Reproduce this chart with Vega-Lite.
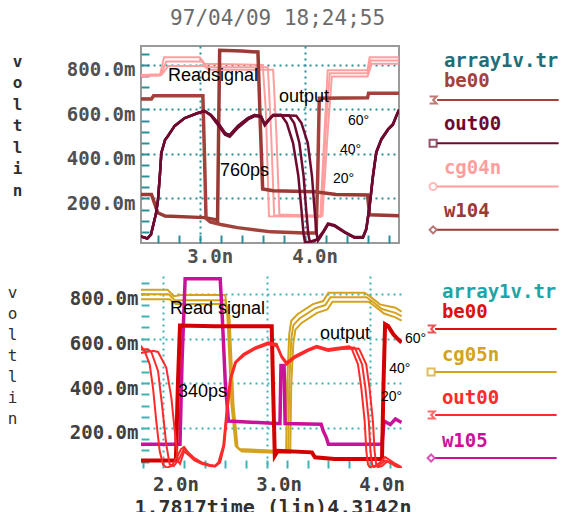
{
"$schema":"https://vega.github.io/schema/vega-lite/v6.json",
"background":"white",
"padding":{"left":7,"top":8,"right":0,"bottom":0},
"config":{"view":{"stroke":null},"font":"DejaVu Sans Mono"},
"title":{"text":"97/04/09 18;24;55","font":"DejaVu Sans Mono","fontSize":21,"fontWeight":"normal","color":"#6b6b6b","anchor":"middle","offset":16,"dx":-6},
"resolve":{"scale":{"x":"independent","y":"independent","color":"independent","shape":"independent"}},
"spacing":9,
"datasets":{
"top":[
{"s":"cg04n_1","t":2.44,"v":750},{"s":"cg04n_1","t":2.62,"v":752},{"s":"cg04n_1","t":2.66,"v":835},{"s":"cg04n_1","t":3.0,"v":835},{"s":"cg04n_1","t":3.05,"v":805},{"s":"cg04n_1","t":3.6,"v":800},{"s":"cg04n_1","t":3.63,"v":600},{"s":"cg04n_1","t":3.66,"v":120},{"s":"cg04n_1","t":4.15,"v":118},{"s":"cg04n_1","t":4.19,"v":500},{"s":"cg04n_1","t":4.22,"v":776},{"s":"cg04n_1","t":4.6,"v":776},{"s":"cg04n_1","t":4.62,"v":835},{"s":"cg04n_1","t":4.9,"v":835},
{"s":"cg04n_2","t":2.44,"v":752},{"s":"cg04n_2","t":2.63,"v":755},{"s":"cg04n_2","t":2.68,"v":815},{"s":"cg04n_2","t":3.02,"v":815},{"s":"cg04n_2","t":3.07,"v":790},{"s":"cg04n_2","t":3.65,"v":790},{"s":"cg04n_2","t":3.68,"v":500},{"s":"cg04n_2","t":3.71,"v":125},{"s":"cg04n_2","t":4.16,"v":120},{"s":"cg04n_2","t":4.2,"v":500},{"s":"cg04n_2","t":4.24,"v":763},{"s":"cg04n_2","t":4.6,"v":763},{"s":"cg04n_2","t":4.63,"v":820},{"s":"cg04n_2","t":4.9,"v":820},
{"s":"cg04n_3","t":2.44,"v":755},{"s":"cg04n_3","t":2.64,"v":758},{"s":"cg04n_3","t":2.7,"v":795},{"s":"cg04n_3","t":3.04,"v":795},{"s":"cg04n_3","t":3.09,"v":778},{"s":"cg04n_3","t":3.7,"v":778},{"s":"cg04n_3","t":3.73,"v":500},{"s":"cg04n_3","t":3.76,"v":128},{"s":"cg04n_3","t":4.17,"v":122},{"s":"cg04n_3","t":4.22,"v":500},{"s":"cg04n_3","t":4.26,"v":748},{"s":"cg04n_3","t":4.6,"v":748},{"s":"cg04n_3","t":4.64,"v":805},{"s":"cg04n_3","t":4.9,"v":805},
{"s":"w104","t":2.44,"v":218},{"s":"w104","t":2.54,"v":218},{"s":"w104","t":2.6,"v":136},{"s":"w104","t":2.67,"v":121},{"s":"w104","t":3.05,"v":114},{"s":"w104","t":3.15,"v":105},{"s":"w104","t":3.17,"v":100},{"s":"w104","t":3.18,"v":500},{"s":"w104","t":3.19,"v":866},{"s":"w104","t":3.4,"v":862},{"s":"w104","t":3.555,"v":858},{"s":"w104","t":3.58,"v":500},{"s":"w104","t":3.6,"v":243},{"s":"w104","t":3.7,"v":235},{"s":"w104","t":4.1,"v":230},{"s":"w104","t":4.3,"v":218},{"s":"w104","t":4.6,"v":216},{"s":"w104","t":4.62,"v":127},{"s":"w104","t":4.9,"v":122},
{"s":"be00","t":2.44,"v":647},{"s":"be00","t":2.54,"v":647},{"s":"be00","t":2.56,"v":661},{"s":"be00","t":3.03,"v":661},{"s":"be00","t":3.045,"v":400},{"s":"be00","t":3.06,"v":110},{"s":"be00","t":3.1,"v":95},{"s":"be00","t":3.2,"v":83},{"s":"be00","t":3.36,"v":69},{"s":"be00","t":3.68,"v":50},{"s":"be00","t":4.0,"v":45},{"s":"be00","t":4.11,"v":45},{"s":"be00","t":4.125,"v":300},{"s":"be00","t":4.14,"v":650},{"s":"be00","t":4.6,"v":652},{"s":"be00","t":4.61,"v":673},{"s":"be00","t":4.9,"v":673},
{"s":"out00_60","t":2.44,"v":29},{"s":"out00_60","t":2.5,"v":20},{"s":"out00_60","t":2.535,"v":38},{"s":"out00_60","t":2.583,"v":132},{"s":"out00_60","t":2.602,"v":194},{"s":"out00_60","t":2.621,"v":311},{"s":"out00_60","t":2.634,"v":405},{"s":"out00_60","t":2.669,"v":463},{"s":"out00_60","t":2.697,"v":481},{"s":"out00_60","t":2.761,"v":526},{"s":"out00_60","t":2.857,"v":561},{"s":"out00_60","t":2.983,"v":584},{"s":"out00_60","t":3.047,"v":593},{"s":"out00_60","t":3.107,"v":575},{"s":"out00_60","t":3.174,"v":539},{"s":"out00_60","t":3.241,"v":494},{"s":"out00_60","t":3.286,"v":485},{"s":"out00_60","t":3.365,"v":526},{"s":"out00_60","t":3.46,"v":561},{"s":"out00_60","t":3.524,"v":575},{"s":"out00_60","t":3.584,"v":570},{"s":"out00_60","t":3.62,"v":532},{"s":"out00_60","t":3.66,"v":556},{"s":"out00_60","t":3.7,"v":575},{"s":"out00_60","t":3.775,"v":576},{"s":"out00_60","t":3.83,"v":539},{"s":"out00_60","t":3.89,"v":449},{"s":"out00_60","t":3.94,"v":302},{"s":"out00_60","t":3.97,"v":149},{"s":"out00_60","t":3.99,"v":40},{"s":"out00_60","t":4.003,"v":5},{"s":"out00_60","t":4.05,"v":6},{"s":"out00_60","t":4.127,"v":17},{"s":"out00_60","t":4.175,"v":46},{"s":"out00_60","t":4.223,"v":84},{"s":"out00_60","t":4.286,"v":77},{"s":"out00_60","t":4.382,"v":47},{"s":"out00_60","t":4.477,"v":24},{"s":"out00_60","t":4.556,"v":24},{"s":"out00_60","t":4.588,"v":61},{"s":"out00_60","t":4.62,"v":166},{"s":"out00_60","t":4.652,"v":300},{"s":"out00_60","t":4.683,"v":405},{"s":"out00_60","t":4.731,"v":464},{"s":"out00_60","t":4.795,"v":509},{"s":"out00_60","t":4.842,"v":531},{"s":"out00_60","t":4.874,"v":569},{"s":"out00_60","t":4.9,"v":598},
{"s":"out00_40","t":2.44,"v":29},{"s":"out00_40","t":2.5,"v":20},{"s":"out00_40","t":2.535,"v":38},{"s":"out00_40","t":2.583,"v":132},{"s":"out00_40","t":2.602,"v":194},{"s":"out00_40","t":2.621,"v":311},{"s":"out00_40","t":2.634,"v":405},{"s":"out00_40","t":2.669,"v":463},{"s":"out00_40","t":2.697,"v":481},{"s":"out00_40","t":2.761,"v":526},{"s":"out00_40","t":2.857,"v":561},{"s":"out00_40","t":2.983,"v":584},{"s":"out00_40","t":3.047,"v":593},{"s":"out00_40","t":3.107,"v":572},{"s":"out00_40","t":3.174,"v":530},{"s":"out00_40","t":3.241,"v":486},{"s":"out00_40","t":3.286,"v":477},{"s":"out00_40","t":3.365,"v":518},{"s":"out00_40","t":3.46,"v":555},{"s":"out00_40","t":3.524,"v":570},{"s":"out00_40","t":3.584,"v":566},{"s":"out00_40","t":3.62,"v":528},{"s":"out00_40","t":3.66,"v":552},{"s":"out00_40","t":3.7,"v":572},{"s":"out00_40","t":3.85,"v":574},{"s":"out00_40","t":3.9,"v":539},{"s":"out00_40","t":3.95,"v":449},{"s":"out00_40","t":3.99,"v":302},{"s":"out00_40","t":4.015,"v":149},{"s":"out00_40","t":4.035,"v":40},{"s":"out00_40","t":4.05,"v":5},{"s":"out00_40","t":4.09,"v":8},{"s":"out00_40","t":4.127,"v":20},{"s":"out00_40","t":4.175,"v":50},{"s":"out00_40","t":4.223,"v":88},{"s":"out00_40","t":4.286,"v":80},{"s":"out00_40","t":4.382,"v":50},{"s":"out00_40","t":4.477,"v":27},{"s":"out00_40","t":4.556,"v":27},{"s":"out00_40","t":4.588,"v":65},{"s":"out00_40","t":4.62,"v":170},{"s":"out00_40","t":4.652,"v":305},{"s":"out00_40","t":4.683,"v":410},{"s":"out00_40","t":4.731,"v":468},{"s":"out00_40","t":4.795,"v":512},{"s":"out00_40","t":4.842,"v":535},{"s":"out00_40","t":4.874,"v":572},{"s":"out00_40","t":4.9,"v":600},
{"s":"out00_20","t":2.44,"v":29},{"s":"out00_20","t":2.5,"v":20},{"s":"out00_20","t":2.535,"v":38},{"s":"out00_20","t":2.583,"v":132},{"s":"out00_20","t":2.602,"v":194},{"s":"out00_20","t":2.621,"v":311},{"s":"out00_20","t":2.634,"v":405},{"s":"out00_20","t":2.669,"v":463},{"s":"out00_20","t":2.697,"v":481},{"s":"out00_20","t":2.761,"v":526},{"s":"out00_20","t":2.857,"v":561},{"s":"out00_20","t":2.983,"v":584},{"s":"out00_20","t":3.047,"v":593},{"s":"out00_20","t":3.107,"v":575},{"s":"out00_20","t":3.174,"v":539},{"s":"out00_20","t":3.241,"v":494},{"s":"out00_20","t":3.286,"v":485},{"s":"out00_20","t":3.365,"v":526},{"s":"out00_20","t":3.46,"v":561},{"s":"out00_20","t":3.524,"v":575},{"s":"out00_20","t":3.584,"v":570},{"s":"out00_20","t":3.62,"v":532},{"s":"out00_20","t":3.66,"v":556},{"s":"out00_20","t":3.7,"v":575},{"s":"out00_20","t":3.92,"v":572},{"s":"out00_20","t":3.97,"v":539},{"s":"out00_20","t":4.03,"v":449},{"s":"out00_20","t":4.07,"v":302},{"s":"out00_20","t":4.095,"v":149},{"s":"out00_20","t":4.115,"v":40},{"s":"out00_20","t":4.127,"v":10},{"s":"out00_20","t":4.15,"v":25},{"s":"out00_20","t":4.175,"v":46},{"s":"out00_20","t":4.223,"v":84},{"s":"out00_20","t":4.286,"v":77},{"s":"out00_20","t":4.382,"v":47},{"s":"out00_20","t":4.477,"v":24},{"s":"out00_20","t":4.556,"v":24},{"s":"out00_20","t":4.588,"v":61},{"s":"out00_20","t":4.62,"v":166},{"s":"out00_20","t":4.652,"v":300},{"s":"out00_20","t":4.683,"v":405},{"s":"out00_20","t":4.731,"v":464},{"s":"out00_20","t":4.795,"v":509},{"s":"out00_20","t":4.842,"v":531},{"s":"out00_20","t":4.874,"v":569},{"s":"out00_20","t":4.9,"v":598}
],
"bot":[
{"s":"cg05n_1","t":1.78,"v":818},{"s":"cg05n_1","t":2.04,"v":818},{"s":"cg05n_1","t":2.1,"v":790},{"s":"cg05n_1","t":2.17,"v":795},{"s":"cg05n_1","t":2.6,"v":795},{"s":"cg05n_1","t":2.62,"v":700},{"s":"cg05n_1","t":2.66,"v":300},{"s":"cg05n_1","t":2.7,"v":120},{"s":"cg05n_1","t":2.74,"v":106},{"s":"cg05n_1","t":3.15,"v":97},{"s":"cg05n_1","t":3.19,"v":97},{"s":"cg05n_1","t":3.2,"v":400},{"s":"cg05n_1","t":3.22,"v":620},{"s":"cg05n_1","t":3.24,"v":680},{"s":"cg05n_1","t":3.3,"v":709},{"s":"cg05n_1","t":3.45,"v":754},{"s":"cg05n_1","t":3.55,"v":768},{"s":"cg05n_1","t":3.6,"v":805},{"s":"cg05n_1","t":3.95,"v":805},{"s":"cg05n_1","t":4.0,"v":790},{"s":"cg05n_1","t":4.1,"v":753},{"s":"cg05n_1","t":4.25,"v":738},{"s":"cg05n_1","t":4.31,"v":720},
{"s":"cg05n_2","t":1.78,"v":798},{"s":"cg05n_2","t":2.05,"v":798},{"s":"cg05n_2","t":2.11,"v":772},{"s":"cg05n_2","t":2.6,"v":772},{"s":"cg05n_2","t":2.63,"v":700},{"s":"cg05n_2","t":2.67,"v":300},{"s":"cg05n_2","t":2.71,"v":115},{"s":"cg05n_2","t":2.75,"v":100},{"s":"cg05n_2","t":3.15,"v":92},{"s":"cg05n_2","t":3.21,"v":92},{"s":"cg05n_2","t":3.22,"v":400},{"s":"cg05n_2","t":3.24,"v":600},{"s":"cg05n_2","t":3.26,"v":660},{"s":"cg05n_2","t":3.32,"v":690},{"s":"cg05n_2","t":3.47,"v":735},{"s":"cg05n_2","t":3.57,"v":750},{"s":"cg05n_2","t":3.62,"v":785},{"s":"cg05n_2","t":3.97,"v":785},{"s":"cg05n_2","t":4.03,"v":765},{"s":"cg05n_2","t":4.12,"v":732},{"s":"cg05n_2","t":4.25,"v":715},{"s":"cg05n_2","t":4.31,"v":700},
{"s":"cg05n_3","t":1.78,"v":776},{"s":"cg05n_3","t":2.06,"v":776},{"s":"cg05n_3","t":2.12,"v":755},{"s":"cg05n_3","t":2.6,"v":755},{"s":"cg05n_3","t":2.64,"v":700},{"s":"cg05n_3","t":2.68,"v":300},{"s":"cg05n_3","t":2.72,"v":110},{"s":"cg05n_3","t":2.76,"v":95},{"s":"cg05n_3","t":3.15,"v":88},{"s":"cg05n_3","t":3.23,"v":88},{"s":"cg05n_3","t":3.24,"v":400},{"s":"cg05n_3","t":3.26,"v":580},{"s":"cg05n_3","t":3.28,"v":640},{"s":"cg05n_3","t":3.34,"v":670},{"s":"cg05n_3","t":3.49,"v":715},{"s":"cg05n_3","t":3.59,"v":730},{"s":"cg05n_3","t":3.64,"v":765},{"s":"cg05n_3","t":3.99,"v":765},{"s":"cg05n_3","t":4.05,"v":745},{"s":"cg05n_3","t":4.14,"v":712},{"s":"cg05n_3","t":4.25,"v":695},{"s":"cg05n_3","t":4.31,"v":680},
{"s":"w105","t":1.78,"v":127},{"s":"w105","t":2.16,"v":127},{"s":"w105","t":2.18,"v":500},{"s":"w105","t":2.21,"v":868},{"s":"w105","t":2.55,"v":868},{"s":"w105","t":2.57,"v":700},{"s":"w105","t":2.6,"v":400},{"s":"w105","t":2.63,"v":231},{"s":"w105","t":3.1,"v":220},{"s":"w105","t":3.13,"v":220},{"s":"w105","t":3.14,"v":480},{"s":"w105","t":3.17,"v":480},{"s":"w105","t":3.18,"v":220},{"s":"w105","t":3.53,"v":217},{"s":"w105","t":3.55,"v":187},{"s":"w105","t":3.58,"v":157},{"s":"w105","t":3.6,"v":127},{"s":"w105","t":4.12,"v":127},{"s":"w105","t":4.14,"v":231},{"s":"w105","t":4.2,"v":215},{"s":"w105","t":4.25,"v":240},{"s":"w105","t":4.31,"v":225},
{"s":"be00","t":1.78,"v":55},{"s":"be00","t":2.12,"v":55},{"s":"be00","t":2.14,"v":400},{"s":"be00","t":2.16,"v":658},{"s":"be00","t":2.5,"v":655},{"s":"be00","t":3.05,"v":655},{"s":"be00","t":3.065,"v":350},{"s":"be00","t":3.08,"v":76},{"s":"be00","t":3.11,"v":98},{"s":"be00","t":3.44,"v":91},{"s":"be00","t":3.47,"v":69},{"s":"be00","t":3.66,"v":61},{"s":"be00","t":4.12,"v":61},{"s":"be00","t":4.135,"v":400},{"s":"be00","t":4.15,"v":664},{"s":"be00","t":4.18,"v":656},{"s":"be00","t":4.23,"v":619},{"s":"be00","t":4.26,"v":604},{"s":"be00","t":4.31,"v":582},
{"s":"out00_60","t":1.78,"v":568},{"s":"out00_60","t":1.817,"v":544},{"s":"out00_60","t":1.866,"v":485},{"s":"out00_60","t":1.898,"v":380},{"s":"out00_60","t":1.93,"v":231},{"s":"out00_60","t":1.963,"v":97},{"s":"out00_60","t":1.995,"v":37},{"s":"out00_60","t":2.03,"v":22},{"s":"out00_60","t":2.08,"v":30},{"s":"out00_60","t":2.13,"v":70},{"s":"out00_60","t":2.17,"v":105},{"s":"out00_60","t":2.2,"v":115},{"s":"out00_60","t":2.24,"v":90},{"s":"out00_60","t":2.3,"v":65},{"s":"out00_60","t":2.37,"v":46},{"s":"out00_60","t":2.45,"v":35},{"s":"out00_60","t":2.5,"v":31},{"s":"out00_60","t":2.532,"v":46},{"s":"out00_60","t":2.58,"v":121},{"s":"out00_60","t":2.613,"v":285},{"s":"out00_60","t":2.645,"v":419},{"s":"out00_60","t":2.694,"v":494},{"s":"out00_60","t":2.774,"v":531},{"s":"out00_60","t":2.888,"v":561},{"s":"out00_60","t":3.017,"v":583},{"s":"out00_60","t":3.098,"v":576},{"s":"out00_60","t":3.147,"v":523},{"s":"out00_60","t":3.195,"v":494},{"s":"out00_60","t":3.276,"v":523},{"s":"out00_60","t":3.405,"v":553},{"s":"out00_60","t":3.486,"v":568},{"s":"out00_60","t":3.599,"v":553},{"s":"out00_60","t":3.729,"v":561},{"s":"out00_60","t":3.8,"v":565},{"s":"out00_60","t":3.822,"v":559},{"s":"out00_60","t":3.887,"v":485},{"s":"out00_60","t":3.919,"v":380},{"s":"out00_60","t":3.952,"v":231},{"s":"out00_60","t":3.968,"v":97},{"s":"out00_60","t":3.984,"v":37},{"s":"out00_60","t":4.0,"v":25},{"s":"out00_60","t":4.05,"v":30},{"s":"out00_60","t":4.1,"v":45},{"s":"out00_60","t":4.15,"v":70},{"s":"out00_60","t":4.2,"v":55},{"s":"out00_60","t":4.25,"v":40},{"s":"out00_60","t":4.31,"v":25},
{"s":"out00_40","t":1.78,"v":552},{"s":"out00_40","t":1.85,"v":552},{"s":"out00_40","t":1.882,"v":540},{"s":"out00_40","t":1.947,"v":455},{"s":"out00_40","t":1.985,"v":306},{"s":"out00_40","t":2.027,"v":127},{"s":"out00_40","t":2.06,"v":37},{"s":"out00_40","t":2.1,"v":30},{"s":"out00_40","t":2.15,"v":60},{"s":"out00_40","t":2.2,"v":108},{"s":"out00_40","t":2.24,"v":88},{"s":"out00_40","t":2.3,"v":62},{"s":"out00_40","t":2.37,"v":44},{"s":"out00_40","t":2.45,"v":33},{"s":"out00_40","t":2.5,"v":29},{"s":"out00_40","t":2.54,"v":46},{"s":"out00_40","t":2.585,"v":121},{"s":"out00_40","t":2.618,"v":285},{"s":"out00_40","t":2.65,"v":419},{"s":"out00_40","t":2.7,"v":494},{"s":"out00_40","t":2.78,"v":528},{"s":"out00_40","t":2.888,"v":556},{"s":"out00_40","t":3.017,"v":578},{"s":"out00_40","t":3.098,"v":570},{"s":"out00_40","t":3.147,"v":518},{"s":"out00_40","t":3.195,"v":488},{"s":"out00_40","t":3.276,"v":518},{"s":"out00_40","t":3.405,"v":548},{"s":"out00_40","t":3.486,"v":563},{"s":"out00_40","t":3.599,"v":548},{"s":"out00_40","t":3.729,"v":557},{"s":"out00_40","t":3.85,"v":560},{"s":"out00_40","t":3.86,"v":555},{"s":"out00_40","t":3.927,"v":485},{"s":"out00_40","t":3.959,"v":380},{"s":"out00_40","t":3.992,"v":231},{"s":"out00_40","t":4.008,"v":97},{"s":"out00_40","t":4.024,"v":37},{"s":"out00_40","t":4.04,"v":25},{"s":"out00_40","t":4.1,"v":35},{"s":"out00_40","t":4.15,"v":55},{"s":"out00_40","t":4.2,"v":45},{"s":"out00_40","t":4.25,"v":30},{"s":"out00_40","t":4.31,"v":20},
{"s":"out00_20","t":1.78,"v":535},{"s":"out00_20","t":1.9,"v":545},{"s":"out00_20","t":1.947,"v":540},{"s":"out00_20","t":2.027,"v":470},{"s":"out00_20","t":2.076,"v":336},{"s":"out00_20","t":2.109,"v":187},{"s":"out00_20","t":2.141,"v":52},{"s":"out00_20","t":2.16,"v":40},{"s":"out00_20","t":2.2,"v":95},{"s":"out00_20","t":2.24,"v":80},{"s":"out00_20","t":2.3,"v":55},{"s":"out00_20","t":2.37,"v":40},{"s":"out00_20","t":2.45,"v":30},{"s":"out00_20","t":2.5,"v":28},{"s":"out00_20","t":2.55,"v":46},{"s":"out00_20","t":2.59,"v":121},{"s":"out00_20","t":2.623,"v":285},{"s":"out00_20","t":2.655,"v":419},{"s":"out00_20","t":2.705,"v":494},{"s":"out00_20","t":2.785,"v":526},{"s":"out00_20","t":2.888,"v":553},{"s":"out00_20","t":3.017,"v":574},{"s":"out00_20","t":3.098,"v":566},{"s":"out00_20","t":3.147,"v":514},{"s":"out00_20","t":3.195,"v":484},{"s":"out00_20","t":3.276,"v":514},{"s":"out00_20","t":3.405,"v":545},{"s":"out00_20","t":3.486,"v":560},{"s":"out00_20","t":3.599,"v":545},{"s":"out00_20","t":3.729,"v":553},{"s":"out00_20","t":3.89,"v":556},{"s":"out00_20","t":3.9,"v":552},{"s":"out00_20","t":3.967,"v":485},{"s":"out00_20","t":3.999,"v":380},{"s":"out00_20","t":4.032,"v":231},{"s":"out00_20","t":4.048,"v":97},{"s":"out00_20","t":4.064,"v":37},{"s":"out00_20","t":4.08,"v":25},{"s":"out00_20","t":4.12,"v":30},{"s":"out00_20","t":4.17,"v":50},{"s":"out00_20","t":4.22,"v":40},{"s":"out00_20","t":4.27,"v":28},{"s":"out00_20","t":4.31,"v":20}
],
"annTopBig":[{"t":2.697,"v":749,"label":"Readsignal"},{"t":3.756,"v":655,"label":"output"},{"t":3.193,"v":324,"label":"760ps"}],
"annTopDeg":[{"t":4.413,"v":548,"label":"60°"},{"t":4.337,"v":418,"label":"40°"},{"t":4.27,"v":288,"label":"20°"}],
"annBotBig":[{"t":2.063,"v":732,"label":"Read signal"},{"t":3.518,"v":621,"label":"output"},{"t":2.141,"v":360,"label":"340ps"}],
"annBotDeg":[{"t":4.343,"v":597,"label":"60°"},{"t":4.19,"v":464,"label":"40°"},{"t":4.11,"v":339,"label":"20°"}],
"legTop":[{"s":"array1v.tr","order":0},{"s":"be00","order":1},{"s":"out00","order":2},{"s":"cg04n","order":3},{"s":"w104","order":4}],
"legBot":[{"s":"array1v.tr","order":0},{"s":"be00","order":1},{"s":"cg05n","order":2},{"s":"out00","order":3},{"s":"w105","order":4}]
},
"vconcat":[
{"hconcat":[
 {"width":258,"height":197,
  "view":{"stroke":"#9a9a9a","strokeWidth":2},
  "encoding":{
   "x":{"field":"t","type":"quantitative","scale":{"domain":[2.44,4.9],"nice":false,"zero":false},
    "axis":{"values":[2.6,2.8,3,3.2,3.4,3.6,3.8,4,4.2,4.4,4.6,4.8],"labelExpr":"abs(datum.value - round(datum.value)) < 0.01 ? format(datum.value,'.1f') + 'n' : ''","labelFont":"DejaVu Sans Mono","labelFontSize":19,"labelFontWeight":"bold","labelColor":"#505050","labelPadding":12,"labelOffset":10,"labelFlush":false,"labelOverlap":false,"tickColor":"#2a8f96","tickSize":-8,"tickWidth":2,"domain":false,"grid":true,"gridColor":"#2a8f96","gridWidth":2,"gridDash":[2,4],"gridOpacity":{"condition":{"test":"abs(datum.value - round(datum.value)) < 0.01","value":1},"value":0},"title":null}},
   "y":{"field":"v","type":"quantitative","scale":{"domain":[0,885],"nice":false,"zero":false},
    "axis":{"values":[50,100,150,200,250,300,350,400,450,500,550,600,650,700,750,800,850],"labelExpr":"datum.value % 200 == 0 ? format(datum.value,'.1f') + 'm' : ''","labelFont":"DejaVu Sans Mono","labelFontSize":19,"labelFontWeight":"bold","labelColor":"#505050","labelPadding":14,"labelOffset":5,"labelFlush":false,"labelOverlap":false,"tickColor":"#2a8f96","tickSize":-8,"tickWidth":2,"domain":false,"grid":true,"gridColor":"#2a8f96","gridWidth":2,"gridDash":[2,4],"gridOpacity":{"condition":{"test":"datum.value % 200 == 0","value":1},"value":0},
     "title":["v","o","l","t","\u00a0","l","i","n"],"titleAngle":0,"titleFont":"DejaVu Sans Mono","titleFontSize":16,"titleFontWeight":"bold","titleColor":"#303030","titleLineHeight":21.5,"titleAlign":"center","titleBaseline":"top","titleX":-124,"titleY":7}}
  },
  "layer":[
   {"data":{"name":"top"},"transform":[{"filter":{"field":"s","oneOf":["cg04n_1","cg04n_2","cg04n_3"]}}],"mark":{"type":"line","strokeWidth":2,"clip":true},"encoding":{"color":{"field":"s","type":"nominal","scale":{"domain":["out00_20","out00_40","out00_60","be00","w104","cg04n_1","cg04n_2","cg04n_3"],"range":["#6e0a30","#6e0a30","#6e0a30","#a3413b","#9a3a34","#ff9e9e","#ff9e9e","#ff9e9e"]},"legend":null}}},
   {"data":{"name":"top"},"transform":[{"filter":{"field":"s","oneOf":["w104","be00"]}}],"mark":{"type":"line","strokeWidth":3.5,"clip":true},"encoding":{"color":{"field":"s","type":"nominal","scale":{"domain":["out00_20","out00_40","out00_60","be00","w104","cg04n_1","cg04n_2","cg04n_3"],"range":["#6e0a30","#6e0a30","#6e0a30","#a3413b","#9a3a34","#ff9e9e","#ff9e9e","#ff9e9e"]},"legend":null}}},
   {"data":{"name":"top"},"transform":[{"filter":{"field":"s","oneOf":["out00_20","out00_40","out00_60"]}}],"mark":{"type":"line","strokeWidth":2.5,"clip":true},"encoding":{"color":{"field":"s","type":"nominal","scale":{"domain":["out00_20","out00_40","out00_60","be00","w104","cg04n_1","cg04n_2","cg04n_3"],"range":["#6e0a30","#6e0a30","#6e0a30","#a3413b","#9a3a34","#ff9e9e","#ff9e9e","#ff9e9e"]},"legend":null}}},
   {"data":{"name":"annTopBig"},"mark":{"type":"text","font":"Liberation Sans","fontSize":18,"align":"left","baseline":"middle","color":"black"},"encoding":{"text":{"field":"label"}}},
   {"data":{"name":"annTopDeg"},"mark":{"type":"text","font":"Liberation Sans","fontSize":14,"align":"left","baseline":"middle","color":"black"},"encoding":{"text":{"field":"label"}}}
  ]
 },
 {"width":135,"height":197,
  "data":{"name":"legTop"},
  "encoding":{
   "y":{"field":"order","type":"quantitative","scale":{"domain":[0.192,4.742],"reverse":true,"nice":false,"zero":false},"axis":null},
   "color":{"field":"s","type":"nominal","scale":{"domain":["array1v.tr","be00","out00","cg04n","w104"],"range":["#1f6f78","#a3413b","#6e0a30","#ff9e9e","#9a3a34"]},"legend":null}
  },
  "layer":[
   {"transform":[{"filter":"datum.order == 0"}],"mark":{"type":"text","align":"left","baseline":"middle","dy":23,"font":"DejaVu Sans Mono","fontSize":19,"fontWeight":"bold"},"encoding":{"x":{"datum":0.14,"type":"quantitative","scale":{"domain":[0,1],"nice":false},"axis":null},"text":{"field":"s"}}},
   {"transform":[{"filter":"datum.order > 0"}],"mark":{"type":"text","align":"left","baseline":"middle","font":"DejaVu Sans Mono","fontSize":19,"fontWeight":"bold"},"encoding":{"x":{"datum":0.14,"type":"quantitative"},"text":{"field":"s"}}},
   {"transform":[{"filter":"datum.order > 0"}],"mark":{"type":"rule","strokeWidth":2,"yOffset":19},"encoding":{"x":{"datum":0.09,"type":"quantitative"},"x2":{"datum":0.99}}},
   {"transform":[{"filter":"datum.order > 0"}],"mark":{"type":"point","filled":false,"size":50,"strokeWidth":2,"yOffset":19},"encoding":{"x":{"datum":0.06,"type":"quantitative"},"shape":{"field":"s","type":"nominal","scale":{"domain":["be00","out00","cg04n","w104"],"range":["M-1,-1H1L0,0L1,1H-1","square","circle","diamond"]},"legend":null}}}
  ]
 }
],"spacing":26,"bounds":"flush","resolve":{"scale":{"x":"independent","y":"independent","color":"independent","shape":"independent"}}},
{"hconcat":[
 {"width":261,"height":192,
  "encoding":{
   "x":{"field":"t","type":"quantitative","scale":{"domain":[1.7817,4.3142],"nice":false,"zero":false},
    "axis":{"values":[1.8,2,2.2,2.4,2.6,2.8,3,3.2,3.4,3.6,3.8,4,4.2],"labelExpr":"abs(datum.value - round(datum.value)) < 0.01 ? format(datum.value,'.1f') + 'n' : ''","labelFont":"DejaVu Sans Mono","labelFontSize":19,"labelFontWeight":"bold","labelColor":"#404040","labelPadding":15,"labelOffset":12,"labelFlush":false,"labelOverlap":false,"tickColor":"#3fb3b3","tickSize":-8,"tickWidth":2,"domain":false,"grid":true,"gridColor":"#3fb3b3","gridWidth":2,"gridDash":[2,4],"gridOpacity":{"condition":{"test":"abs(datum.value - round(datum.value)) < 0.01","value":1},"value":0},
     "title":"1.7817time (lin)4.3142n","titleFont":"DejaVu Sans Mono","titleFontSize":20,"titleFontWeight":"bold","titleColor":"#303030","titleAnchor":"start","titleAlign":"left","titleX":-7,"titlePadding":3}},
   "y":{"field":"v","type":"quantitative","scale":{"domain":[21,880],"nice":false,"zero":false},
    "axis":{"values":[50,100,150,200,250,300,350,400,450,500,550,600,650,700,750,800,850],"labelExpr":"datum.value % 200 == 0 ? format(datum.value,'.1f') + 'm' : ''","labelFont":"DejaVu Sans Mono","labelFontSize":19,"labelFontWeight":"bold","labelColor":"#404040","labelPadding":11,"labelOffset":5,"labelFlush":false,"labelOverlap":false,"tickColor":"#3fb3b3","tickSize":-8,"tickWidth":2,"domain":false,"grid":true,"gridColor":"#3fb3b3","gridWidth":2,"gridDash":[2,4],"gridOpacity":{"condition":{"test":"datum.value % 200 == 0","value":1},"value":0},
     "title":["v","o","l","t","\u00a0","l","i","n"],"titleAngle":0,"titleFont":"DejaVu Sans Mono","titleFontSize":16,"titleFontWeight":"normal","titleColor":"#303030","titleLineHeight":21,"titleAlign":"center","titleBaseline":"top","titleX":-129,"titleY":8}}
  },
  "layer":[
   {"data":{"name":"bot"},"transform":[{"filter":{"field":"s","oneOf":["cg05n_1","cg05n_2","cg05n_3"]}}],"mark":{"type":"line","strokeWidth":2,"clip":true},"encoding":{"color":{"field":"s","type":"nominal","scale":{"domain":["out00_20","out00_40","out00_60","be00","w105","cg05n_1","cg05n_2","cg05n_3"],"range":["#ff2a2a","#ff2a2a","#ff2a2a","#d40000","#cc1199","#d4a21c","#d4a21c","#d4a21c"]},"legend":null}}},
   {"data":{"name":"bot"},"transform":[{"filter":{"field":"s","equal":"w105"}}],"mark":{"type":"line","strokeWidth":3.5,"clip":true},"encoding":{"color":{"field":"s","type":"nominal","scale":{"domain":["out00_20","out00_40","out00_60","be00","w105","cg05n_1","cg05n_2","cg05n_3"],"range":["#ff2a2a","#ff2a2a","#ff2a2a","#d40000","#cc1199","#d4a21c","#d4a21c","#d4a21c"]},"legend":null}}},
   {"data":{"name":"bot"},"transform":[{"filter":{"field":"s","equal":"be00"}}],"mark":{"type":"line","strokeWidth":4,"clip":true},"encoding":{"color":{"field":"s","type":"nominal","scale":{"domain":["out00_20","out00_40","out00_60","be00","w105","cg05n_1","cg05n_2","cg05n_3"],"range":["#ff2a2a","#ff2a2a","#ff2a2a","#d40000","#cc1199","#d4a21c","#d4a21c","#d4a21c"]},"legend":null}}},
   {"data":{"name":"bot"},"transform":[{"filter":{"field":"s","oneOf":["out00_20","out00_40","out00_60"]}}],"mark":{"type":"line","strokeWidth":2,"clip":true},"encoding":{"color":{"field":"s","type":"nominal","scale":{"domain":["out00_20","out00_40","out00_60","be00","w105","cg05n_1","cg05n_2","cg05n_3"],"range":["#ff2a2a","#ff2a2a","#ff2a2a","#d40000","#cc1199","#d4a21c","#d4a21c","#d4a21c"]},"legend":null}}},
   {"data":{"name":"annBotBig"},"mark":{"type":"text","font":"Liberation Sans","fontSize":18,"align":"left","baseline":"middle","color":"black"},"encoding":{"text":{"field":"label"}}},
   {"data":{"name":"annBotDeg"},"mark":{"type":"text","font":"Liberation Sans","fontSize":14,"align":"left","baseline":"middle","color":"black"},"encoding":{"text":{"field":"label"}}}
  ]
 },
 {"width":135,"height":192,
  "data":{"name":"legBot"},
  "encoding":{
   "y":{"field":"order","type":"quantitative","scale":{"domain":[0.163,4.628],"reverse":true,"nice":false,"zero":false},"axis":null},
   "color":{"field":"s","type":"nominal","scale":{"domain":["array1v.tr","be00","cg05n","out00","w105"],"range":["#1fa5a5","#dd1111","#d4a21c","#ff2a2a","#cc1199"]},"legend":null}
  },
  "layer":[
   {"transform":[{"filter":"datum.order == 0"}],"mark":{"type":"text","align":"left","baseline":"middle","dy":23,"font":"DejaVu Sans Mono","fontSize":19,"fontWeight":"bold"},"encoding":{"x":{"datum":0.14,"type":"quantitative","scale":{"domain":[0,1],"nice":false},"axis":null},"text":{"field":"s"}}},
   {"transform":[{"filter":"datum.order > 0"}],"mark":{"type":"text","align":"left","baseline":"middle","font":"DejaVu Sans Mono","fontSize":19,"fontWeight":"bold"},"encoding":{"x":{"datum":0.14,"type":"quantitative"},"text":{"field":"s"}}},
   {"transform":[{"filter":"datum.order > 0"}],"mark":{"type":"rule","strokeWidth":2,"yOffset":17},"encoding":{"x":{"datum":0.09,"type":"quantitative"},"x2":{"datum":0.99}}},
   {"transform":[{"filter":"datum.order > 0"}],"mark":{"type":"point","filled":false,"size":50,"strokeWidth":2,"yOffset":17},"encoding":{"x":{"datum":0.06,"type":"quantitative"},"shape":{"field":"s","type":"nominal","scale":{"domain":["be00","cg05n","out00","w105"],"range":["M-1,-1H1L0,0L1,1H-1","square","M-1,-1H1L0,0L1,1H-1","diamond"]},"legend":null}}}
  ]
 }
],"spacing":21,"bounds":"flush","resolve":{"scale":{"x":"independent","y":"independent","color":"independent","shape":"independent"}}}
]
}
